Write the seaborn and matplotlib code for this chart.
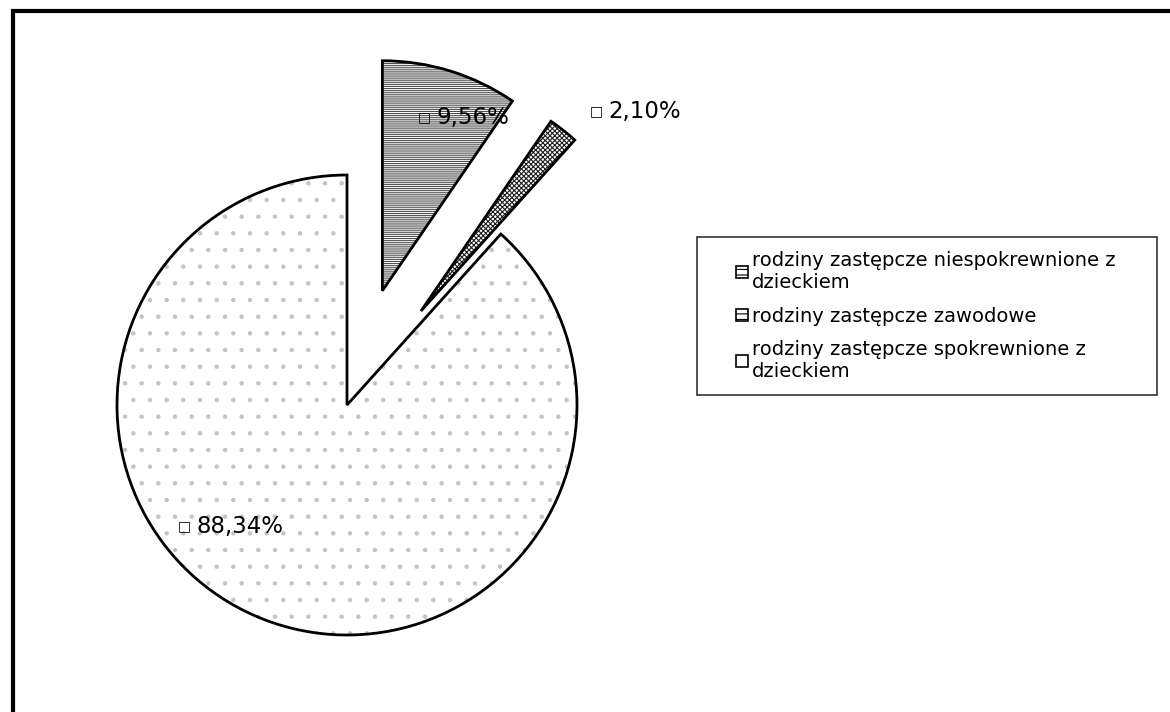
import matplotlib
matplotlib.use("Agg")
import matplotlib.pyplot as plt
from matplotlib.legend_handler import HandlerPatch
from matplotlib.patches import Patch, Rectangle
import numpy as np
import seaborn as sns

# Structure of foster families (share of each type)
categories = [
    "rodziny zastępcze niespokrewnione z\ndzieckiem",
    "rodziny zastępcze zawodowe",
    "rodziny zastępcze spokrewnione z\ndzieckiem",
]
shares = [9.56, 2.10, 88.34]
value_labels = ["9,56%", "2,10%", "88,34%"]

explode = [0.52, 0.52, 0.0]
hatches = ["--------", "xxxxxxx", "."]
hatch_colors = ["#505050", "#202020", "#c4c4c4"]
# label placement: (distance from wedge centre in radii, angle shift from mid-angle)
label_place = [(0.79, 0), (1.19, -5), (0.84, -30)]

sns.set_theme(style="white")
plt.rcParams["font.family"] = ["DejaVu Sans"]
plt.rcParams["hatch.linewidth"] = 0.8

fig = plt.figure(figsize=(11.7, 7.12), dpi=100)
ax = fig.add_axes([0, 0, 1, 1])
ax.axis("off")

# hatched fill
wedges, _ = ax.pie(
    shares, explode=explode, startangle=90, counterclock=False,
    colors=["white"] * 3,
    wedgeprops=dict(linewidth=0),
)
for w, h, c in zip(wedges, hatches, hatch_colors):
    w.set_hatch(h)
    w.set_edgecolor(c)

# black outlines on top
outlines, _ = ax.pie(
    shares, explode=explode, startangle=90, counterclock=False,
    wedgeprops=dict(fill=False, edgecolor="black", linewidth=2),
)

for w, lab, (dist, shift) in zip(outlines, value_labels, label_place):
    mid = np.deg2rad((w.theta1 + w.theta2) / 2 + shift)
    cx, cy = w.center
    pos = (cx + dist * w.r * np.cos(mid), cy + dist * w.r * np.sin(mid))
    ax.text(*pos, lab, ha="left", va="center", fontsize=16.5, color="black")
    ax.annotate("\u25a1", xy=pos, xytext=(-4, 0), textcoords="offset points",
                ha="right", va="center", fontsize=10, color="black")

r_px = 230.0
cx_px, cy_px = 347.0, 712.0 - 405.0
ax.set_xlim(-cx_px / r_px, (1170 - cx_px) / r_px)
ax.set_ylim(-cy_px / r_px, (712 - cy_px) / r_px)
ax.set_aspect("auto")


def small_key(legend, orig_handle, xdescent, ydescent, width, height, fontsize):
    side = 0.62 * fontsize
    return Rectangle((width - side - xdescent, -ydescent + (height - side) / 2), side, side)


handles = [Patch(facecolor="white", edgecolor="black", hatch=h, linewidth=1.2)
           for h in ["---", "---", ""]]
leg = fig.legend(
    handles, categories, loc="upper left",
    bbox_to_anchor=(697 / 1170, 1 - 237 / 712 - 0.01, 460 / 1170, 0.01),
    mode="expand", fontsize=14, frameon=True, fancybox=False, labelcolor="black",
    edgecolor="black", handlelength=1.9, handleheight=0.7, handletextpad=0.2,
    labelspacing=0.75, borderpad=0.72, borderaxespad=0,
    handler_map={Patch: HandlerPatch(patch_func=small_key)},
)
leg.get_frame().set_linewidth(1.2)

# scanned page frame (left and top edges)
fig.patches.append(Rectangle((13 / 1170, -0.1), 1.2, 1.1 - 11 / 712,
                             transform=fig.transFigure, fill=False,
                             edgecolor="black", linewidth=3))

fig.savefig("out.png", dpi=100)
